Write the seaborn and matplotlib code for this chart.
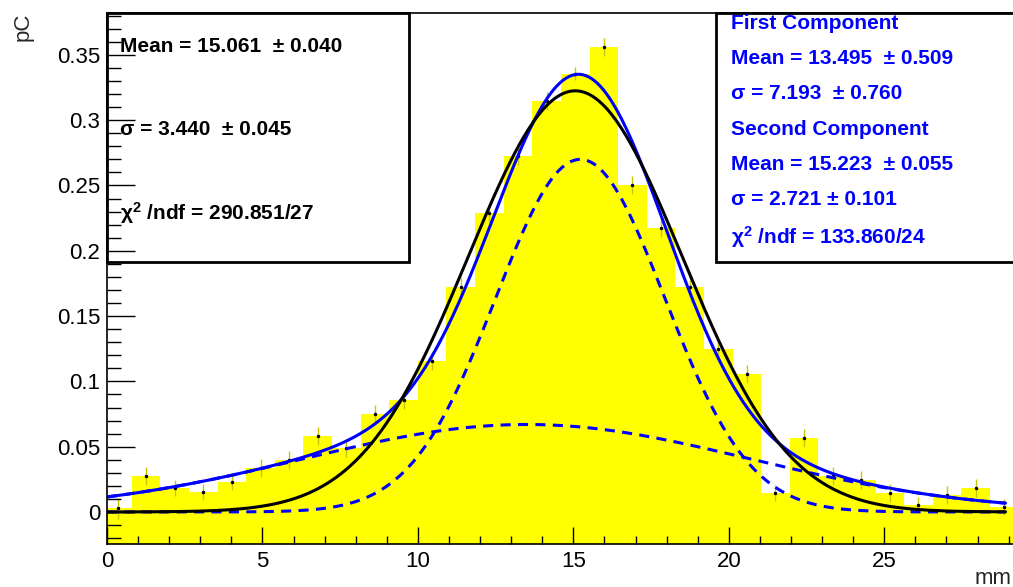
import numpy as np
import matplotlib
matplotlib.use("Agg")
import matplotlib.pyplot as plt
import seaborn as sns
from matplotlib.patches import Rectangle
from matplotlib.ticker import MultipleLocator, FuncFormatter

# histogram: bin centres (mm), contents and errors (pC)
bin_centers = [0.34, 1.26, 2.18, 3.10, 4.02, 4.94, 5.86, 6.78, 7.70, 8.62,
               9.54, 10.46, 11.38, 12.30, 13.22, 14.14, 15.06, 15.98, 16.90, 17.82,
               18.74, 19.66, 20.58, 21.50, 22.42, 23.34, 24.26, 25.18, 26.10, 27.02,
               27.94, 28.86]
bin_width = 0.92
charge = [0.003, 0.0277, 0.0185, 0.0152, 0.0232, 0.0334, 0.040, 0.0584, 0.049, 0.0748,
          0.0858, 0.1156, 0.1725, 0.2287, 0.2726, 0.3147, 0.3354, 0.3558, 0.2504, 0.2177,
          0.172, 0.1246, 0.1054, 0.0143, 0.0564, 0.0278, 0.0245, 0.0143, 0.0054, 0.013,
          0.0181, 0.004]
charge_err = [0.008, 0.007, 0.006, 0.006, 0.006, 0.007, 0.007, 0.007, 0.007, 0.007,
              0.007, 0.007, 0.007, 0.007, 0.007, 0.007, 0.005, 0.007, 0.007, 0.007,
              0.007, 0.007, 0.007, 0.006, 0.007, 0.007, 0.007, 0.007, 0.006, 0.007,
              0.007, 0.006]

# fit parameters (amplitude, mean, sigma)
single_fit = [0.3225, 15.061, 3.440]
first_comp = [0.067, 13.495, 7.193]
second_comp = [0.270, 15.223, 2.721]
fit_range = [0.0, 28.9]

left_box = ["Mean = 15.061  \u00b1 0.040",
            "\u03c3 = 3.440  \u00b1 0.045",
            "\u03c7$^{2}$ /ndf = 290.851/27"]
right_box = ["First Component",
             "Mean = 13.495  \u00b1 0.509",
             "\u03c3 = 7.193  \u00b1 0.760",
             "Second Component",
             "Mean = 15.223  \u00b1 0.055",
             "\u03c3 = 2.721 \u00b1 0.101",
             "\u03c7$^{2}$ /ndf = 133.860/24"]


def gaus(x, p):
    return p[0] * np.exp(-0.5 * ((x - p[1]) / p[2]) ** 2)


sns.set_theme(style="ticks")
plt.rcParams['font.family'] = ['Liberation Sans', 'DejaVu Sans']
plt.rcParams['mathtext.fontset'] = 'custom'
plt.rcParams['mathtext.rm'] = 'Liberation Sans:bold'
plt.rcParams['mathtext.bf'] = 'Liberation Sans:bold'
plt.rcParams['mathtext.default'] = 'bf'

fig = plt.figure(figsize=(10.13, 5.87), dpi=100)
ax = fig.add_axes([0.1056, 0.0733, 0.8993, 0.9046])
ymin, ymax = -0.0245, 0.3821

# ROOT fills the bars from the bottom of the frame
centers = np.array(bin_centers)
heights = np.array(charge)
ax.bar(centers, heights - ymin, bottom=ymin, width=bin_width, color='#ffff00',
       linewidth=0, zorder=1)
ax.errorbar(centers, heights, yerr=charge_err, fmt='o', ms=1.5, color='black',
            ecolor='#c8c800', elinewidth=1, zorder=1.5)

xs = np.linspace(fit_range[0], fit_range[1], 600)
sns.lineplot(x=xs, y=gaus(xs, first_comp), color='blue', lw=2.2,
             dashes=(3.3, 2.4), ax=ax, zorder=2)
sns.lineplot(x=xs, y=gaus(xs, second_comp), color='blue', lw=2.2,
             dashes=(3.3, 2.4), ax=ax, zorder=2)
sns.lineplot(x=xs, y=gaus(xs, first_comp) + gaus(xs, second_comp), color='blue',
             lw=2.2, ax=ax, zorder=2)
sns.lineplot(x=xs, y=gaus(xs, single_fit), color='black', lw=2.2, ax=ax, zorder=2)

ax.set_xlim(0, 29.3)
ax.set_ylim(ymin, ymax)
ax.set_xlabel("")
ax.set_ylabel("")
ax.xaxis.set_major_locator(MultipleLocator(5))
ax.xaxis.set_minor_locator(MultipleLocator(1))
ax.yaxis.set_major_locator(MultipleLocator(0.05))
ax.yaxis.set_minor_locator(MultipleLocator(0.01))
ax.yaxis.set_major_formatter(FuncFormatter(lambda v, p: "%g" % round(v, 3)))
ax.tick_params(which='both', direction='in', top=False, right=False,
               width=1, colors='black', labelsize=16)
ax.tick_params(axis='x', which='major', length=12, pad=5)
ax.tick_params(axis='x', which='minor', length=6)
ax.tick_params(axis='y', which='major', length=20, pad=5)
ax.tick_params(axis='y', which='minor', length=10)
for s in ax.spines.values():
    s.set_linewidth(1.2)
    s.set_color('black')
ax.set_axisbelow(False)

# stats boxes
ax.add_patch(Rectangle((0, 0.531), 0.3315, 0.469, transform=ax.transAxes,
                       facecolor='white', edgecolor='black', lw=2, zorder=2.2,
                       clip_on=False))
ax.add_patch(Rectangle((0.6685, 0.531), 0.34, 0.469, transform=ax.transAxes,
                       facecolor='white', edgecolor='black', lw=2, zorder=2.2,
                       clip_on=False))
for txt, yy in zip(left_box, [0.9365, 0.7797, 0.6234]):
    ax.text(0.0143, yy, txt, transform=ax.transAxes, fontsize=15,
            fontweight='bold', color='black', va='center', zorder=3)
for txt, yy in zip(right_box, [0.9800, 0.9147, 0.8487, 0.7810, 0.7137, 0.6478, 0.5787]):
    ax.text(0.685, yy, txt, transform=ax.transAxes, fontsize=15,
            fontweight='bold', color='#0000ff', va='center', zorder=3)

fig.text(23 / 1013, 1 - 13 / 587, "pC", rotation=90, ha='center', va='top', fontsize=16)
fig.text(1012 / 1013, 3 / 587, "mm", ha='right', va='baseline', fontsize=16)

fig.savefig("out.png", dpi=100)
